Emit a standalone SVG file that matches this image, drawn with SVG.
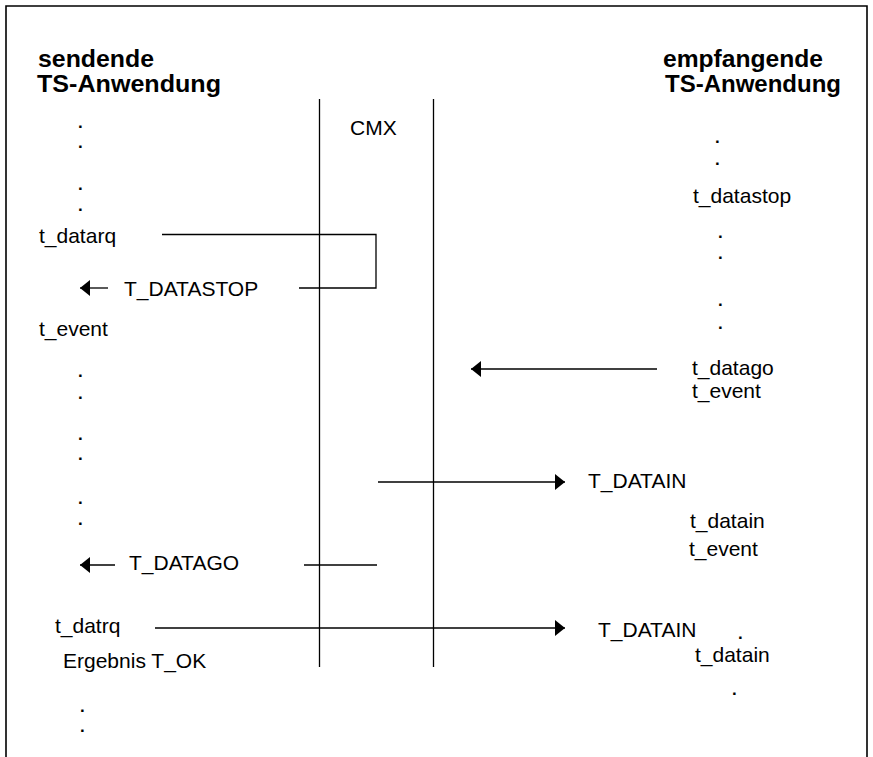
<svg xmlns="http://www.w3.org/2000/svg" width="873" height="757" viewBox="0 0 873 757">
  <style>
    .t { font-family: "Liberation Sans", Arial, sans-serif; font-size: 21px; fill: #000; }
    .d { font-family: "Liberation Sans", Arial, sans-serif; font-size: 17px; font-weight: bold; fill: #000; }
    .h { font-family: "Liberation Sans", Arial, sans-serif; font-size: 23px; font-weight: bold; fill: #000; }
    .ln { stroke: #000; stroke-width: 1.3; fill: none; }
    .frame { stroke: #000; stroke-width: 1.6; fill: none; }
  </style>
  <defs>
    <marker id="arrow" viewBox="0 0 10 16" refX="10" refY="8" markerWidth="10" markerHeight="16" markerUnits="userSpaceOnUse" orient="auto">
      <path d="M0,0 L10,8 L0,16 Z" fill="#000"/>
    </marker>
  </defs>
  <rect width="873" height="757" fill="#fff"/>

  <!-- outer frame, open at the bottom -->
  <path class="frame" d="M6,760 V6 H867 V760"/>

  <!-- sending application -->
  <g id="sender">
    <text class="h" x="38" y="67" textLength="116" lengthAdjust="spacingAndGlyphs">sendende</text>
    <text class="h" x="37" y="92" textLength="184" lengthAdjust="spacingAndGlyphs">TS-Anwendung</text>
    <text class="d" x="78" y="128">.<tspan x="78" dy="20">.</tspan></text>
    <text class="d" x="78" y="190">.<tspan x="78" dy="21">.</tspan></text>
    <text class="t" x="39" y="243">t_datarq</text>
    <text class="t" x="124" y="296">T_DATASTOP</text>
    <text class="t" x="39" y="336">t_event</text>
    <text class="d" x="78" y="377">.<tspan x="78" dy="22">.</tspan></text>
    <text class="d" x="78" y="440">.<tspan x="78" dy="20">.</tspan></text>
    <text class="d" x="78" y="504">.<tspan x="78" dy="21">.</tspan></text>
    <text class="t" x="129" y="570">T_DATAGO</text>
    <text class="t" x="55" y="633">t_datrq</text>
    <text class="t" x="63" y="668">Ergebnis T_OK</text>
    <text class="d" x="80" y="712">.<tspan x="80" dy="20">.</tspan></text>
  </g>

  <!-- transport system -->
  <g id="cmx">
    <line class="ln" x1="319.5" y1="99" x2="319.5" y2="667"/>
    <line class="ln" x1="433.5" y1="99" x2="433.5" y2="667"/>
    <text class="t" x="350" y="135">CMX</text>
  </g>

  <!-- receiving application -->
  <g id="receiver">
    <text class="h" x="663" y="67" textLength="160" lengthAdjust="spacingAndGlyphs">empfangende</text>
    <text class="h" x="665" y="92" textLength="176" lengthAdjust="spacingAndGlyphs">TS-Anwendung</text>
    <text class="d" x="715" y="143">.<tspan x="715" dy="22">.</tspan></text>
    <text class="t" x="693" y="203">t_datastop</text>
    <text class="d" x="718" y="238">.<tspan x="718" dy="21">.</tspan></text>
    <text class="d" x="718" y="306">.<tspan x="718" dy="23">.</tspan></text>
    <text class="t" x="692" y="375">t_datago</text>
    <text class="t" x="692" y="398">t_event</text>
    <text class="t" x="588" y="488">T_DATAIN</text>
    <text class="t" x="690" y="528">t_datain</text>
    <text class="t" x="689" y="556">t_event</text>
    <text class="t" x="598" y="637">T_DATAIN</text>
    <text class="d" x="738" y="639">.</text>
    <text class="t" x="695" y="662">t_datain</text>
    <text class="d" x="732" y="695">.</text>
  </g>

  <!-- messages -->
  <g id="connectors">
    <path class="ln" d="M162,234.5 H376 V288 H299"/>
    <line class="ln" x1="108" y1="288" x2="80" y2="288" marker-end="url(#arrow)"/>
    <line class="ln" x1="657" y1="369" x2="471" y2="369" marker-end="url(#arrow)"/>
    <line class="ln" x1="378" y1="482" x2="565" y2="482" marker-end="url(#arrow)"/>
    <line class="ln" x1="304" y1="565" x2="377" y2="565"/>
    <line class="ln" x1="115" y1="565" x2="80" y2="565" marker-end="url(#arrow)"/>
    <line class="ln" x1="155" y1="628" x2="565" y2="628" marker-end="url(#arrow)"/>
  </g>
</svg>
